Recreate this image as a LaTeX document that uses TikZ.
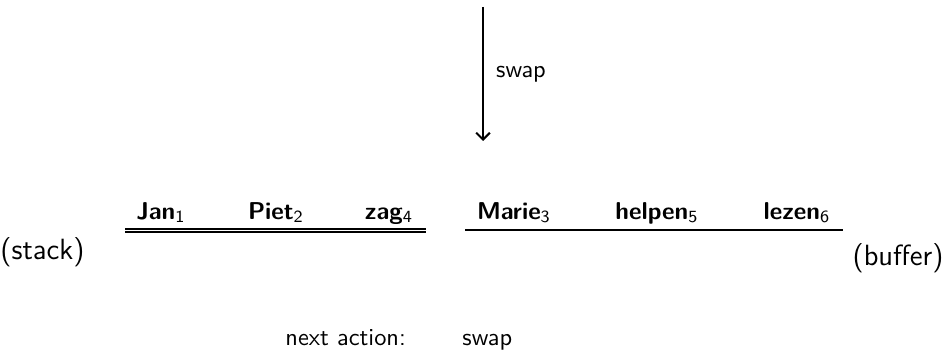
\documentclass[tikz,border=0pt]{standalone}
\usepackage{tikz}
\usetikzlibrary{arrows.meta}
\begin{document}
\begin{tikzpicture}[x=0.41pt,y=-0.41pt,
  every node/.style={font=\sffamily, inner sep=0pt},
  word/.style={font=\sffamily\bfseries, anchor=base},
  plain/.style={font=\sffamily},
  side/.style={font=\sffamily\large},
  rule/.style={line width=0.8pt},
  stackrule/.style={line width=0.65pt, double, double distance=0.8pt}]
\useasboundingbox (0,0) rectangle (944,353);

% transition arrow
\coordinate (top) at (483,7);
\coordinate (bot) at (483,141);
\draw[rule,-{Straight Barb[length=2.8pt,width=5.6pt]}] (top) -- (bot)
  node[plain, midway, right=5pt] (act) {swap};

% stack
\coordinate (s0) at (125,230.5);
\coordinate (s1) at (426,230.5);
\draw[stackrule] (s0) -- (s1);
\node[word] (w1) at (161,219) {Jan\textsubscript{\mdseries 1}};
\node[word] (w2) at (276,219) {Piet\textsubscript{\mdseries 2}};
\node[word] (w4) at (389,219) {zag\textsubscript{\mdseries 4}};
\node[side, anchor=west] (stack) at (0,252) {(stack)};

% buffer
\coordinate (b0) at (465,230);
\coordinate (b1) at (843,230);
\draw[rule] (b0) -- (b1);
\node[word] (w3) at (514,219) {Marie\textsubscript{\mdseries 3}};
\node[word] (w5) at (657,219) {helpen\textsubscript{\mdseries 5}};
\node[word] (w6) at (797,219) {lezen\textsubscript{\mdseries 6}};
\node[side, anchor=east] (buffer) at (944,258) {(buffer)};

% next action
\node[plain, anchor=base west] (na) at (285,345) {next action:};
\node[plain, anchor=base west] (nx) at (462,345) {swap};
\end{tikzpicture}
\end{document}
